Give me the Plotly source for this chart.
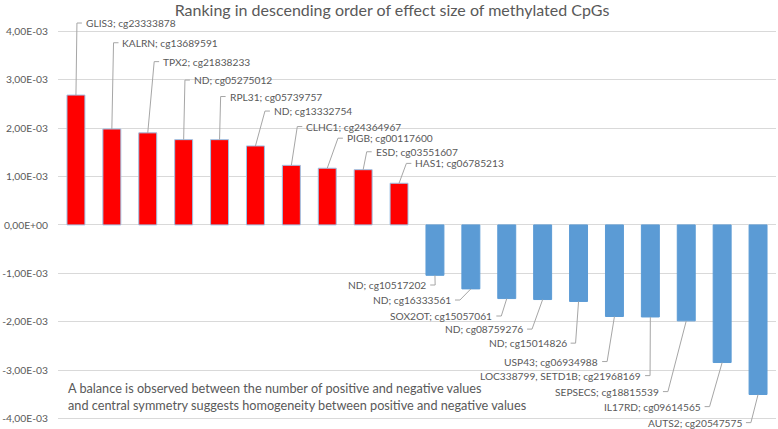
import plotly.graph_objects as go

# ---- data ----
labels = [
    "GLIS3; cg23333878", "KALRN; cg13689591", "TPX2; cg21838233", "ND; cg05275012",
    "RPL31; cg05739757", "ND; cg13332754", "CLHC1; cg24364967", "PIGB; cg00117600",
    "ESD; cg03551607", "HAS1; cg06785213",
    "ND; cg10517202", "ND; cg16333561", "SOX2OT; cg15057061", "ND; cg08759276",
    "ND; cg15014826", "USP43; cg06934988", "LOC338799, SETD1B; cg21968169",
    "SEPSECS; cg18815539", "IL17RD; cg09614565", "AUTS2; cg20547575",
]
values = [
    2.68e-3, 1.98e-3, 1.90e-3, 1.76e-3, 1.76e-3, 1.63e-3, 1.23e-3, 1.17e-3, 1.14e-3, 0.86e-3,
    -1.04e-3, -1.32e-3, -1.52e-3, -1.54e-3, -1.58e-3, -1.89e-3, -1.90e-3, -1.98e-3, -2.84e-3, -3.50e-3,
]
tick_vals = [-4e-3, -3e-3, -2e-3, -1e-3, 0.0, 1e-3, 2e-3, 3e-3, 4e-3]
tick_text = ["-4,00E-03", "-3,00E-03", "-2,00E-03", "-1,00E-03", "0,00E+00",
             "1,00E-03", "2,00E-03", "3,00E-03", "4,00E-03"]
title_text = "Ranking in descending order of effect size of methylated CpGs"
note_text = ("A balance is observed between the number of positive and negative values<br>"
             "and central symmetry suggests homogeneity between positive and negative values")

# ---- layout / style (positions of callouts, not data) ----
W, H = 778, 429
ML, MR, MT, MB = 52, 2, 19, 3
n = len(values)
unit = (W - ML - MR) / n  # px per category
# elbow x offset (px from bar centre) and label y (axis units) for each callout
elbow_px = [1, 1.7, 6.5, 1.3, 1.1, 9.6, 6, 10.8, 3.6, 7.4,
            0.2, -11, -5.5, -10.7, -3, -7.4, -0.3, -18.5, -12.7, -7.2]
label_y = [4.167e-3, 3.76e-3, 3.37e-3, 2.99e-3, 2.65e-3, 2.35e-3, 2.03e-3, 1.79e-3, 1.51e-3, 1.27e-3,
           -1.24e-3, -1.55e-3, -1.88e-3, -2.15e-3, -2.44e-3, -2.82e-3, -3.11e-3, -3.44e-3, -3.75e-3, -4.08e-3]

FONT = "Lato"
GRAY = "#595959"
xs = list(range(n))
colors = ["#FF0000" if v >= 0 else "#5B9BD5" for v in values]
line_colors = ["#9DC3E6" if v >= 0 else "#5B9BD5" for v in values]

fig = go.Figure()
fig.add_trace(go.Bar(x=xs, y=values, width=0.5, marker=dict(color=colors, line=dict(color=line_colors, width=1)),
                     hoverinfo="skip", showlegend=False))

lx, ly = [], []
annotations = []
for i, v in enumerate(values):
    sign = 1 if v >= 0 else -1
    ex = i + elbow_px[i] / unit
    tick_end = ex + sign * 5 / unit
    lx += [i, ex, tick_end, None]
    ly += [v, label_y[i], label_y[i], None]
    annotations.append(dict(
        x=ex + sign * 7 / unit, y=label_y[i], xref="x", yref="y", text=labels[i],
        showarrow=False, xanchor="left" if sign > 0 else "right", yanchor="middle",
        font=dict(family=FONT, size=10.2, color=GRAY)))

fig.add_trace(go.Scatter(x=lx, y=ly, mode="lines", line=dict(color="#A6A6A6", width=1),
                         hoverinfo="skip", showlegend=False, cliponaxis=False))

annotations.append(dict(x=(60 - ML) / (W - ML - MR), y=-3.55e-3, xref="paper", yref="y",
                        text=note_text, showarrow=False, xanchor="left", yanchor="middle", align="left",
                        font=dict(family=FONT, size=12.7, color=GRAY)))

fig.update_layout(
    width=W, height=H, margin=dict(l=ML, r=MR, t=MT, b=MB),
    paper_bgcolor="white", plot_bgcolor="white",
    title=dict(text=title_text, x=392 / W, xanchor="center", xref="container", y=1 - 10 / H, yref="container",
               yanchor="middle", font=dict(family=FONT, size=16, color=GRAY)),
    xaxis=dict(range=[-0.5, n - 0.5], showticklabels=False, showgrid=False, zeroline=False,
               showline=False, ticks=""),
    yaxis=dict(range=[-4.15e-3, 4.25e-3], tickvals=tick_vals, ticktext=tick_text,
               showgrid=True, gridcolor="#D9D9D9", gridwidth=1, zeroline=False, showline=False,
               tickfont=dict(family=FONT, size=10.3, color=GRAY), ticks="", ticklabelstandoff=9),
    annotations=annotations,
    bargap=0.5,
)

fig.write_html("out.html", config={"displayModeBar": False},
               post_script="document.body.style.margin='0';")
